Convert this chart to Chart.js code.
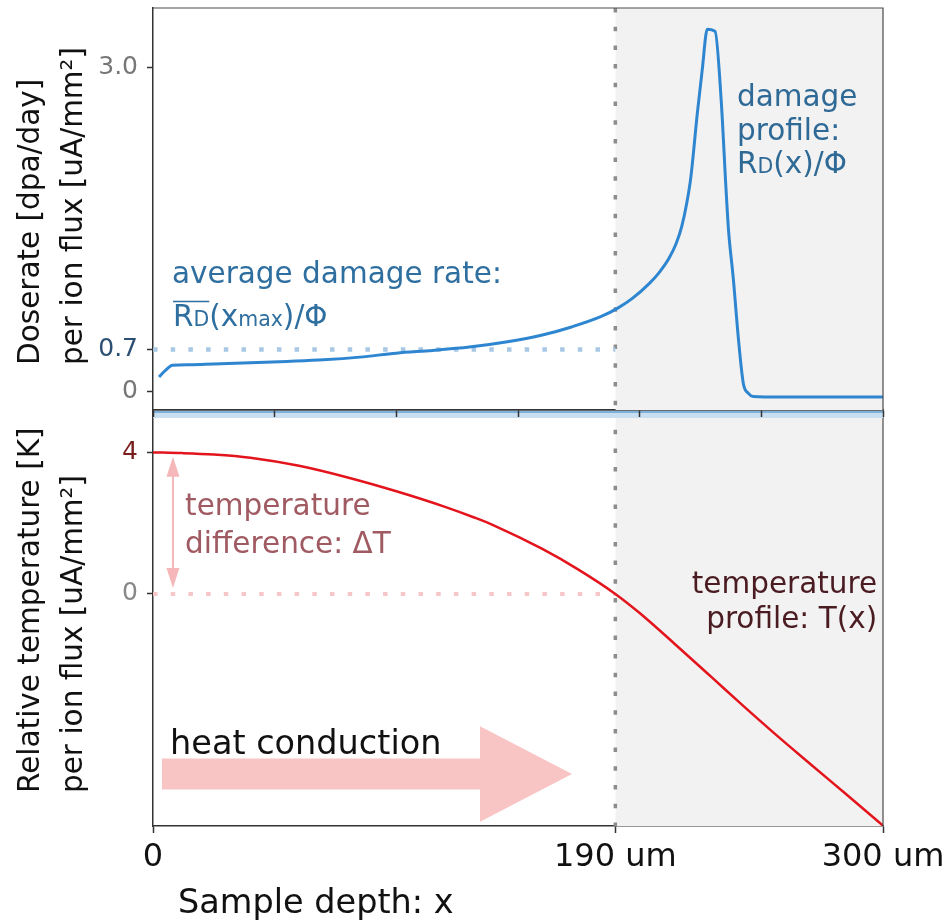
<!DOCTYPE html>
<html lang="en">
<head>
<meta charset="UTF-8">
<title>Damage profile and temperature profile</title>
<script src="https://cdn.jsdelivr.net/npm/chart.js"></script>
<style>
  body { margin: 0; background: #fff; }
  .wrap { position: relative; width: 950px; height: 924px; }
  .wrap canvas { position: absolute; left: 0; top: 0; }
</style>
</head>
<body>
<div class="wrap">
  <canvas id="tempChart" width="950" height="924"></canvas>
  <canvas id="doseChart" width="950" height="924"></canvas>
</div>
<script>
// depth in um, values
const doseDepth = [2.5, 5, 8, 15, 25, 40, 55, 70, 85, 100, 115, 130, 145, 160, 172, 184, 191, 197, 204, 208, 212, 215,
                   217.3, 219.3, 221, 223.7, 225.7, 227.8, 231, 233.5, 235.5, 236.5, 238.5, 240.6, 242.6, 244.6, 246.6, 258, 300];
const doseRate  = [0.13, 0.19, 0.24, 0.245, 0.252, 0.262, 0.275, 0.29, 0.315, 0.352, 0.377, 0.408, 0.455, 0.52, 0.595, 0.69, 0.77, 0.86, 1.0, 1.1, 1.23, 1.37,
                   1.53, 1.74, 1.98, 2.58, 2.98, 3.36, 3.34, 2.7, 1.87, 1.5, 1.04, 0.48, 0.07, -0.02, -0.05, -0.055, -0.055];

const tempDepth = [0, 12, 25, 40, 60, 80, 100, 120, 132, 140, 160, 175, 190, 200, 215, 230, 242, 255, 270, 285, 300];
const tempRise  = [4.0, 3.98, 3.94, 3.85, 3.62, 3.29, 2.9, 2.46, 2.16, 1.94, 1.27, 0.68, 0.0, -0.54, -1.45, -2.38, -3.13, -3.92, -4.8, -5.67, -6.55];

const depthMax = 300;
const rangeEnd = 190;          // end of averaging region
const avgDose = 0.385;         // level drawn at the "0.7" tick

const doseTicks = [0, 0.385, 3.0];
const doseTickLabels = ['0', '0.7', '3.0'];
const doseTickColors = ['#777', '#2c4f73', '#777'];
const tempTicks = [0, 4];
const tempTickLabels = ['0', '4'];
const tempTickColors = ['#888', '#7a1f1f'];
const depthTicks = [0, 190, 300];
const depthTickLabels = ['0', '190 um', '300 um'];
const upperDepthTicks = [0, 50, 100, 150, 200, 250, 300];

const FONT = '"DejaVu Sans", sans-serif';
Chart.defaults.font.family = FONT;

const pts = (xs, ys) => xs.map((x, i) => ({ x: x, y: ys[i] }));

function shade(yMin, yMax) {
  return {
    data: [{ x: rangeEnd, y: yMax }, { x: depthMax, y: yMax }],
    fill: 'start', backgroundColor: '#f2f2f2', borderWidth: 0, pointRadius: 0, order: 10
  };
}
function rangeLine(yMin, yMax) {
  return {
    data: [{ x: rangeEnd, y: yMax }, { x: rangeEnd, y: yMin }],
    borderColor: '#8c8c8c', borderWidth: 3.5, borderDash: [4.5, 14.2], borderCapStyle: 'butt',
    pointRadius: 0, fill: false, order: 5
  };
}

function drawRuns(ctx, x, y, runs, color) {
  ctx.fillStyle = color;
  ctx.textAlign = 'left';
  ctx.textBaseline = 'alphabetic';
  let cx = x;
  const spans = [];
  runs.forEach(r => {
    ctx.font = r[1] + 'px ' + FONT;
    ctx.fillText(r[0], cx, y);
    const w = ctx.measureText(r[0]).width;
    spans.push([cx, cx + w]);
    cx += w;
  });
  return spans;
}

function yTitle(ctx, lines, yStart) {
  ctx.save();
  ctx.fillStyle = '#111';
  ctx.font = '29.5px ' + FONT;
  ctx.textAlign = 'left';
  ctx.textBaseline = 'alphabetic';
  [39, 82].forEach((bx, i) => {
    ctx.save();
    ctx.translate(bx, yStart);
    ctx.rotate(-Math.PI / 2);
    ctx.fillText(lines[i], 0, 0);
    ctx.restore();
  });
  ctx.restore();
}

function frame(chart) {
  const a = chart.chartArea, ctx = chart.ctx;
  ctx.save();
  ctx.strokeStyle = '#4a4a4a';
  ctx.lineWidth = 1.2;
  ctx.beginPath();
  ctx.moveTo(a.left, a.top);
  ctx.lineTo(a.right, a.top);
  ctx.lineTo(a.right, a.bottom);
  ctx.stroke();
  ctx.restore();
}

function scales(opts) {
  return {
    x: {
      type: 'linear', min: 0, max: depthMax,
      afterBuildTicks: s => { s.ticks = opts.xTicks.map(v => ({ value: v })); },
      afterFit: s => { s.height = opts.xHeight; s.paddingLeft = 0; s.paddingRight = 0; },
      ticks: {
        autoSkip: false, maxRotation: 0, minRotation: 0, padding: 5,
        color: '#111', font: { size: 32 },
        callback: (v, i) => opts.xLabels ? opts.xLabels[i] : ''
      },
      grid: { drawOnChartArea: false, drawTicks: true, tickLength: 7, tickColor: '#333', tickWidth: 1.5 },
      border: { color: '#333', width: 1.5 }
    },
    y: {
      type: 'linear', min: opts.yMin, max: opts.yMax,
      afterBuildTicks: s => { s.ticks = opts.yTicks.map(v => ({ value: v })); },
      afterFit: s => { s.width = 153; s.paddingTop = 0; s.paddingBottom = 0; },
      ticks: {
        padding: 9, font: { size: 25 },
        color: c => opts.yColors[c.index],
        callback: (v, i) => opts.yLabels[i]
      },
      grid: { drawOnChartArea: false, drawTicks: true, tickLength: 6, tickColor: '#333', tickWidth: 1.5 },
      border: { color: '#333', width: 1.5 }
    }
  };
}

// ---------- upper panel: dose rate ----------
const doseMin = -0.176, doseMax = 3.557;

new Chart(document.getElementById('doseChart'), {
  type: 'line',
  data: {
    datasets: [
      shade(doseMin, doseMax),
      rangeLine(doseMin, doseMax),
      {
        data: [{ x: 0, y: avgDose }, { x: rangeEnd, y: avgDose }],
        borderColor: '#a8c8e5', borderWidth: 4.5, borderDash: [4.5, 13.2], borderCapStyle: 'butt',
        pointRadius: 0, fill: false, order: 4
      },
      {
        data: pts(doseDepth, doseRate),
        borderColor: '#2f86d0', borderWidth: 3, pointRadius: 0, fill: false,
        cubicInterpolationMode: 'monotone', order: 1
      }
    ]
  },
  options: {
    responsive: false, animation: false,
    layout: { padding: { left: 0, right: 67, top: 8, bottom: 0 } },
    plugins: { legend: { display: false }, tooltip: { enabled: false } },
    scales: scales({
      xTicks: upperDepthTicks, xHeight: 924 - 410,
      yMin: doseMin, yMax: doseMax, yTicks: doseTicks, yLabels: doseTickLabels, yColors: doseTickColors
    })
  },
  plugins: [{
    id: 'doseNotes',
    beforeDraw(chart) {
      const a = chart.chartArea, ctx = chart.ctx;
      ctx.save();
      ctx.fillStyle = '#7db0dc';
      ctx.fillRect(a.left, a.bottom + 1, a.right - a.left, 2);
      ctx.fillStyle = '#c8dff2';
      ctx.fillRect(a.left, a.bottom + 3, a.right - a.left, 5);
      ctx.restore();
    },
    afterDatasetsDraw(chart) {
      const ctx = chart.ctx, sx = chart.scales.x, sy = chart.scales.y;
      ctx.save();
      ctx.font = '29.5px ' + FONT;
      ctx.fillStyle = '#2f6fa0';
      ctx.fillText('average damage rate:', sx.getPixelForValue(7.8), sy.getPixelForValue(1.003));
      const by = sy.getPixelForValue(0.604);
      const sp = drawRuns(ctx, sx.getPixelForValue(8.2), by,
        [['R', 29.5], ['D', 20.5], ['(x', 29.5], ['max', 20.5], [')/Φ', 29.5]], '#2f6fa0');
      ctx.strokeStyle = '#2f6fa0';
      ctx.lineWidth = 1.6;
      ctx.beginPath();
      ctx.moveTo(sp[0][0], by - 24.5);
      ctx.lineTo(sp[1][1], by - 24.5);
      ctx.stroke();

      const dx = sx.getPixelForValue(240);
      ctx.font = '29.5px ' + FONT;
      ctx.fillStyle = '#2f6a96';
      ctx.fillText('damage', dx, sy.getPixelForValue(2.647));
      ctx.fillText('profile:', dx, sy.getPixelForValue(2.331));
      drawRuns(ctx, dx, sy.getPixelForValue(2.025), [['R', 29.5], ['D', 20.5], ['(x)/Φ', 29.5]], '#2f6a96');
      ctx.restore();
    },
    afterDraw(chart) {
      frame(chart);
      yTitle(chart.ctx, ['Doserate [dpa/day]', 'per ion flux [uA/mm²]'], 365);
    }
  }]
});

// ---------- lower panel: temperature ----------
const tempMin = -6.56, tempMax = 5.17;

new Chart(document.getElementById('tempChart'), {
  type: 'line',
  data: {
    datasets: [
      shade(tempMin, tempMax),
      rangeLine(tempMin, tempMax),
      {
        data: [{ x: 0, y: 0 }, { x: rangeEnd, y: 0 }],
        borderColor: '#f7c6c9', borderWidth: 4, borderDash: [4.5, 13.2], borderCapStyle: 'butt',
        pointRadius: 0, fill: false, order: 4
      },
      {
        data: pts(tempDepth, tempRise),
        borderColor: '#e3141c', borderWidth: 2.5, pointRadius: 0, fill: false,
        cubicInterpolationMode: 'monotone', order: 1
      }
    ]
  },
  options: {
    responsive: false, animation: false,
    layout: { padding: { left: 0, right: 67, top: 411, bottom: 0 } },
    plugins: { legend: { display: false }, tooltip: { enabled: false } },
    scales: scales({
      xTicks: depthTicks, xLabels: depthTickLabels, xHeight: 924 - 826,
      yMin: tempMin, yMax: tempMax, yTicks: tempTicks, yLabels: tempTickLabels, yColors: tempTickColors
    })
  },
  plugins: [{
    id: 'tempNotes',
    afterDatasetsDraw(chart) {
      const ctx = chart.ctx, sx = chart.scales.x, sy = chart.scales.y;
      ctx.save();

      // heat conduction arrow
      const x0 = sx.getPixelForValue(3.7), x1 = sx.getPixelForValue(134.4), xt = sx.getPixelForValue(172.2);
      const yc = sy.getPixelForValue(-5.09);
      const bh = sy.getPixelForValue(-5.09 - 0.44) - yc, hh = sy.getPixelForValue(-5.09 - 1.35) - yc;
      ctx.fillStyle = '#f8c4c4';
      ctx.beginPath();
      ctx.moveTo(x0, yc - bh); ctx.lineTo(x1, yc - bh); ctx.lineTo(x1, yc - hh);
      ctx.lineTo(xt, yc); ctx.lineTo(x1, yc + hh); ctx.lineTo(x1, yc + bh); ctx.lineTo(x0, yc + bh);
      ctx.closePath();
      ctx.fill();
      ctx.font = '33.5px ' + FONT;
      ctx.fillStyle = '#111';
      ctx.fillText('heat conduction', sx.getPixelForValue(7), sy.getPixelForValue(-4.53));

      // temperature difference double arrow
      const ax = sx.getPixelForValue(8.2), ay0 = sy.getPixelForValue(3.88), ay1 = sy.getPixelForValue(0.17);
      ctx.strokeStyle = '#f5b7b9';
      ctx.fillStyle = '#f5b7b9';
      ctx.lineWidth = 2;
      ctx.beginPath(); ctx.moveTo(ax, ay0 + 12); ctx.lineTo(ax, ay1 - 12); ctx.stroke();
      [[ay0, 1], [ay1, -1]].forEach(([ty, d]) => {
        ctx.beginPath();
        ctx.moveTo(ax, ty); ctx.lineTo(ax - 6.5, ty + d * 20); ctx.lineTo(ax + 6.5, ty + d * 20);
        ctx.closePath(); ctx.fill();
      });

      ctx.font = '29.5px ' + FONT;
      ctx.fillStyle = '#a05a62';
      ctx.fillText('temperature', sx.getPixelForValue(13.2), sy.getPixelForValue(2.24));
      ctx.fillText('difference: ΔT', sx.getPixelForValue(13.2), sy.getPixelForValue(1.16));

      ctx.fillStyle = '#4a1c22';
      ctx.textAlign = 'right';
      ctx.fillText('temperature', sx.getPixelForValue(297.6), sy.getPixelForValue(0.03));
      ctx.fillText('profile: T(x)', sx.getPixelForValue(297.6), sy.getPixelForValue(-0.96));
      ctx.restore();
    },
    afterDraw(chart) {
      frame(chart);
      yTitle(chart.ctx, ['Relative temperature [K]', 'per ion flux [uA/mm²]'], 793);
      const ctx = chart.ctx;
      ctx.save();
      ctx.font = '33.5px ' + FONT;
      ctx.fillStyle = '#111';
      ctx.textAlign = 'left';
      ctx.fillText('Sample depth: x', 178, 913);
      ctx.restore();
    }
  }]
});
</script>
</body>
</html>
